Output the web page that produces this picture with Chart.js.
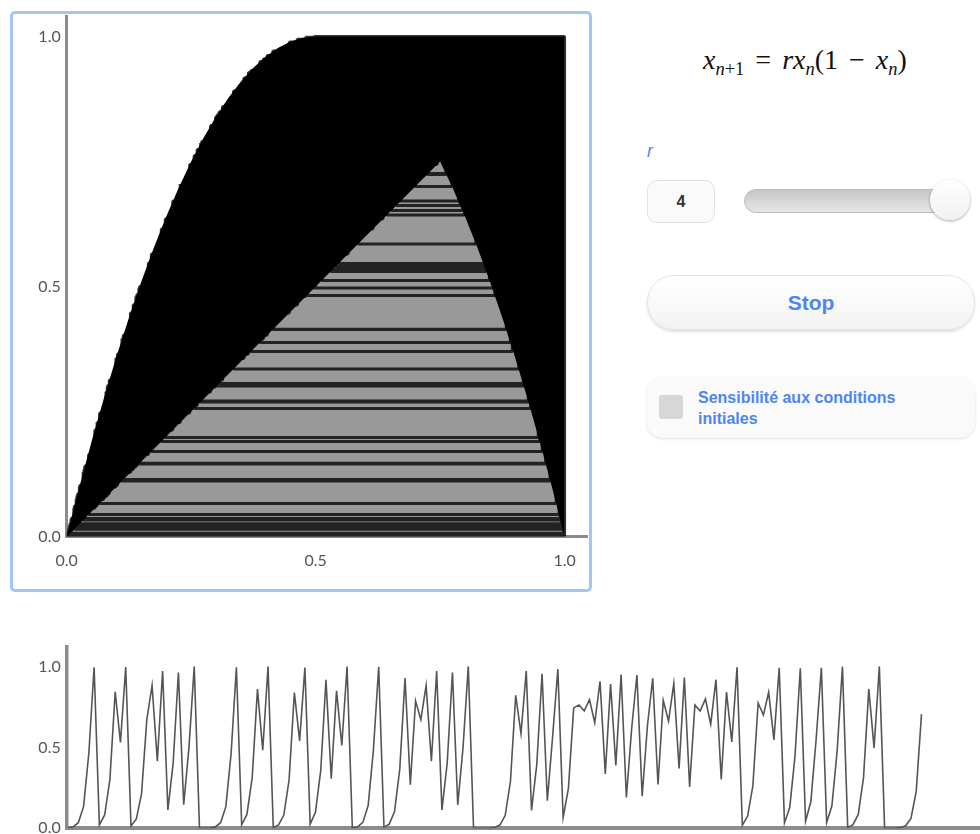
<!DOCTYPE html>
<html>
<head>
<meta charset="utf-8">
<script src="https://cdn.jsdelivr.net/npm/chart.js@4.4.1/dist/chart.umd.min.js"></script>
<style>
  body { margin: 0; background: #fff; width: 980px; height: 834px; position: relative; overflow: hidden;
         font-family: 'Liberation Sans', Arial, sans-serif; }
  #frame { position: absolute; left: 10px; top: 11px; width: 582px; height: 581px; box-sizing: border-box;
           border: 3px solid #a6c5f7; border-radius: 5px; }
  #cobweb { position: absolute; left: 13px; top: 14px; }
  #series { position: absolute; left: 0; top: 640px; }
  #formula { position: absolute; left: 703px; top: 44px; font-family: 'Liberation Serif', serif; font-size: 28px; color: #111; white-space: nowrap; }
  #formula sub { font-size: 66%; vertical-align: -6px; line-height: 0; }
  #formula .op { margin: 0 11px; font-style: normal; }
  #rlabel { position: absolute; left: 647px; top: 141px; font-size: 18px; font-style: italic; color: #5a86f0; }
  #rvalue { position: absolute; left: 647px; top: 180px; width: 68px; height: 43px; box-sizing: border-box;
            border: 1px solid #e2e2e2; border-radius: 10px; background: #fafafa; text-align: center;
            line-height: 41px; font-weight: bold; font-size: 16px; color: #333; }
  #track { position: absolute; left: 744px; top: 189px; width: 226px; height: 24px; box-sizing: border-box;
           border: 1px solid #bdbdbd; border-radius: 12px; background: linear-gradient(#c6c6c6, #e6e6e6); }
  #knob { position: absolute; left: 930px; top: 180px; width: 40px; height: 40px; border-radius: 50%;
          background: linear-gradient(#ffffff, #f1f1f1); box-shadow: 0 1px 3px rgba(0,0,0,0.35); }
  #stop { position: absolute; left: 647px; top: 275px; width: 328px; height: 55px; box-sizing: border-box;
          border: 1px solid #e4e4e4; border-radius: 27px; background: linear-gradient(#ffffff, #f3f3f3);
          box-shadow: 0 2px 3px rgba(0,0,0,0.13); text-align: center; line-height: 53px;
          font-weight: bold; font-size: 21px; color: #4f84f2; }
  #panel { position: absolute; left: 647px; top: 377px; width: 328px; height: 61px; box-sizing: border-box;
           border-radius: 15px; background: #fafafa; box-shadow: 0 1px 3px rgba(0,0,0,0.12); }
  #box { position: absolute; left: 12px; top: 18px; width: 24px; height: 24px; border-radius: 3px; background: #d7d7d7; }
  #ptext { position: absolute; left: 51px; top: 10px; font-weight: bold; font-size: 16px; line-height: 21px; color: #4f84f2; }
</style>
</head>
<body>
<div id="frame"></div>
<canvas id="cobweb" width="576" height="575"></canvas>
<canvas id="series" width="980" height="194"></canvas>

<div id="formula"><i>x</i><sub><i>n</i>+1</sub><span class="op">=</span><i>rx</i><sub><i>n</i></sub>(1<span class="op">−</span><i>x</i><sub><i>n</i></sub>)</div>
<div id="rlabel">r</div>
<div id="rvalue">4</div>
<div id="track"></div>
<div id="knob"></div>
<div id="stop">Stop</div>
<div id="panel"><div id="box"></div><div id="ptext">Sensibilité aux conditions<br>initiales</div></div>

<script>
// iterates x_n
const series = [
  0.0022, 0.0087, 0.0346, 0.1336, 0.4637, 0.9947, 0.021, 0.0822, 0.302, 0.843,
  0.53, 0.9964, 0.0143, 0.0565, 0.213, 0.671, 0.883, 0.4146, 0.9708, 0.1135,
  0.4025, 0.962, 0.1464, 0.5, 1.0, 0.00014, 0.00055, 0.0022, 0.0087, 0.0346,
  0.1336, 0.463, 0.9945, 0.0219, 0.0855, 0.313, 0.86, 0.482, 0.9987, 0.0052,
  0.0208, 0.0815, 0.299, 0.839, 0.54, 0.9936, 0.0254, 0.0988, 0.356, 0.917,
  0.306, 0.849, 0.512, 0.9994, 0.0023, 0.0092, 0.0365, 0.141, 0.484, 0.998,
  0.0066, 0.026, 0.102, 0.365, 0.928, 0.269, 0.787, 0.671, 0.883, 0.414,
  0.971, 0.114, 0.403, 0.962, 0.145, 0.497, 1.0, 0.00002, 0.00008, 0.0003,
  0.0013, 0.005, 0.0201, 0.0789, 0.289, 0.822, 0.585, 0.971, 0.111, 0.395,
  0.955, 0.17, 0.565, 0.983, 0.066, 0.247, 0.744, 0.762, 0.726, 0.795,
  0.652, 0.908, 0.335, 0.891, 0.388, 0.95, 0.19, 0.615, 0.947, 0.198,
  0.635, 0.927, 0.271, 0.79, 0.662, 0.895, 0.37, 0.932, 0.256, 0.762,
  0.724, 0.799, 0.643, 0.918, 0.301, 0.841, 0.534, 0.995, 0.019, 0.074,
  0.262, 0.774, 0.70, 0.84, 0.546, 0.992, 0.033, 0.128, 0.447, 0.989,
  0.044, 0.164, 0.547, 0.991, 0.036, 0.139, 0.48, 0.9986, 0.0055, 0.022,
  0.0855, 0.313, 0.86, 0.497, 1.0, 0.00006, 0.00024, 0.00097, 0.0039, 0.0154,
  0.061, 0.228, 0.705
];

const axisTicks = [0, 0.5, 1.0];

// outer edge of the dark web (left curve, flat top, right side)
const webEdgeX = [0, 0.0125, 0.025, 0.05, 0.075, 0.1, 0.125, 0.15, 0.175, 0.2, 0.225, 0.25, 0.275,
                  0.3, 0.325, 0.35, 0.375, 0.4, 0.425, 0.45, 0.475, 0.5, 1.0, 1.0];
const webEdgeY = [0, 0.049, 0.0975, 0.19, 0.2775, 0.36, 0.4375, 0.51, 0.5775, 0.64, 0.6975, 0.75, 0.7975,
                  0.84, 0.8775, 0.91, 0.9375, 0.96, 0.9775, 0.99, 0.9975, 1.0, 1.0, 0];

// striped wedge under the diagonal (apex near 0.75)
const wedgeX = [0, 0.75, 0.775, 0.8, 0.825, 0.85, 0.875, 0.9, 0.925, 0.95, 0.975, 0.9875, 1.0];
const wedgeY = [0, 0.75, 0.6975, 0.64, 0.5775, 0.51, 0.4375, 0.36, 0.2775, 0.19, 0.0975, 0.049, 0];

const tickFont = { family: 'Lato', size: 16 };
const axisGray = '#8c8c8c';

const pts = (xs, ys) => xs.map((x, i) => ({ x: x, y: ys[i] }));

// no extra room for edge labels, the plot area is placed by hand
const noPad = s => { s.paddingTop = 0; s.paddingBottom = 0; s.paddingLeft = 0; s.paddingRight = 0; };

// cobweb path: up/down to the next value, then across to the diagonal
const web = [];
for (let n = 0; n < series.length - 1; n++) {
  web.push({ x: series[n], y: series[n] });
  web.push({ x: series[n], y: series[n + 1] });
}

var ctx = document.getElementById('cobweb');
new Chart(ctx, {
  type: 'line',
  data: {
    datasets: [
      { data: web, borderColor: 'rgba(0,0,0,0.78)', borderWidth: 3, borderJoinStyle: 'bevel',
        borderCapStyle: 'butt', fill: false, order: 0 },
      { data: pts(wedgeX, wedgeY), borderWidth: 0, backgroundColor: '#999999', fill: 'origin', order: 1 },
      { data: pts(webEdgeX, webEdgeY), borderWidth: 0, backgroundColor: '#000000', fill: 'origin', order: 2 }
    ]
  },
  options: {
    responsive: false,
    animation: false,
    layout: { padding: { top: 2, right: 2, left: 0, bottom: 0 } },
    elements: { point: { radius: 0 }, line: { tension: 0 } },
    plugins: { legend: { display: false }, tooltip: { enabled: false } },
    scales: {
      x: {
        type: 'linear', min: 0, max: 1.045,
        grid: { display: false, drawTicks: false },
        border: { color: axisGray, width: 3 },
        ticks: { padding: 15, color: '#555', font: tickFont, callback: v => v.toFixed(1) },
        afterBuildTicks: s => { s.ticks = axisTicks.map(v => ({ value: v })); },
        afterFit: s => { s.height = 52.5; noPad(s); }
      },
      y: {
        type: 'linear', min: 0, max: 1.041,
        grid: { display: false, drawTicks: false },
        border: { color: axisGray, width: 3 },
        ticks: { padding: 6, color: '#555', font: tickFont, callback: v => v.toFixed(1) },
        afterBuildTicks: s => { s.ticks = axisTicks.map(v => ({ value: v })); },
        afterFit: s => { s.width = 53.7; noPad(s); }
      }
    }
  }
});

var ctx2 = document.getElementById('series');
new Chart(ctx2, {
  type: 'line',
  data: {
    datasets: [{
      data: series.map((v, i) => ({ x: i, y: v })),
      borderColor: '#555555',
      borderWidth: 1.6,
      fill: false
    }]
  },
  options: {
    responsive: false,
    animation: false,
    layout: { padding: { top: 7, right: 0, left: 0, bottom: 0 } },
    elements: { point: { radius: 0 }, line: { tension: 0 } },
    plugins: { legend: { display: false }, tooltip: { enabled: false } },
    scales: {
      x: {
        type: 'linear', min: -0.2, max: 173.1,
        grid: { display: false, drawTicks: false },
        border: { color: axisGray, width: 4 },
        ticks: { display: false },
        afterFit: s => { s.height = 5.7; noPad(s); }
      },
      y: {
        type: 'linear', min: 0, max: 1.12,
        grid: { display: false, drawTicks: false },
        border: { color: axisGray, width: 3.5 },
        ticks: { padding: 6, color: '#555', font: tickFont, callback: v => v.toFixed(1) },
        afterBuildTicks: s => { s.ticks = axisTicks.map(v => ({ value: v })); },
        afterFit: s => { s.width = 66.7; noPad(s); }
      }
    }
  }
});
</script>
</body>
</html>
